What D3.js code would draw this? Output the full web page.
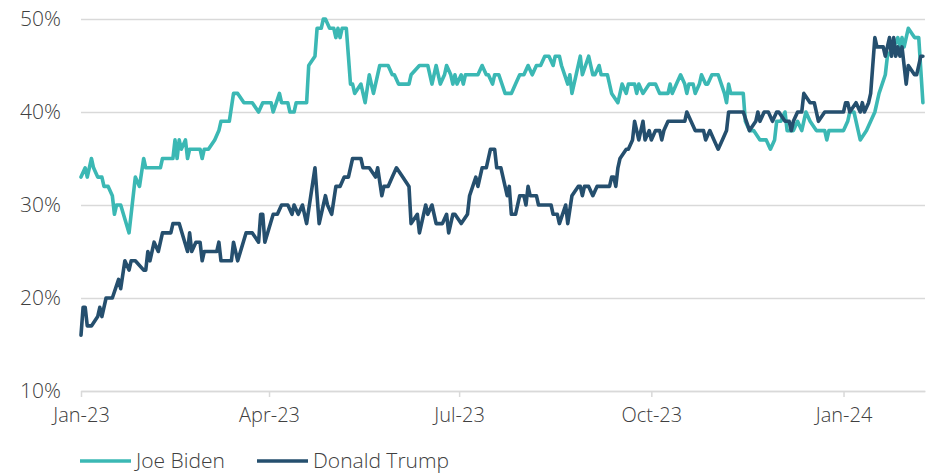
<!DOCTYPE html>
<html lang="en">
<head>
<meta charset="UTF-8">
<title>Biden vs Trump</title>
<script src="https://d3js.org/d3.v7.min.js"></script>
<style>
    body { margin: 0; background: #fff; }
    svg { display: block; font-family: "Open Sans", Lato, sans-serif; }
    .tick text { fill: #404040; }
</style>
</head>
<body>
<div id="chart"></div>
<script>
    // data, one vertex per change of direction
    const bidenDates = [
        "2023-01-01","2023-01-03","2023-01-04","2023-01-06","2023-01-07","2023-01-09","2023-01-11","2023-01-12","2023-01-14","2023-01-16",
        "2023-01-17","2023-01-18","2023-01-20","2023-01-24","2023-01-27","2023-01-29","2023-01-31","2023-02-01","2023-02-08","2023-02-09",
        "2023-02-14","2023-02-15","2023-02-16","2023-02-17","2023-02-18","2023-02-20","2023-02-21","2023-02-22","2023-02-27","2023-02-28",
        "2023-03-01","2023-03-03","2023-03-06","2023-03-08","2023-03-09","2023-03-13","2023-03-15","2023-03-17","2023-03-20","2023-03-24",
        "2023-03-27","2023-03-29","2023-04-02","2023-04-03","2023-04-06","2023-04-07","2023-04-10","2023-04-11","2023-04-13","2023-04-14",
        "2023-04-19","2023-04-20","2023-04-23","2023-04-24","2023-04-26","2023-04-27","2023-04-28","2023-04-30","2023-05-02","2023-05-03",
        "2023-05-04","2023-05-05","2023-05-06","2023-05-08","2023-05-09","2023-05-10","2023-05-11","2023-05-12","2023-05-15","2023-05-17",
        "2023-05-19","2023-05-21","2023-05-24","2023-05-28","2023-05-30","2023-05-31","2023-06-02","2023-06-07","2023-06-08","2023-06-12",
        "2023-06-16","2023-06-18","2023-06-20","2023-06-21","2023-06-22","2023-06-24","2023-06-25","2023-06-27","2023-06-28","2023-06-29",
        "2023-06-30","2023-07-02","2023-07-03","2023-07-04","2023-07-10","2023-07-12","2023-07-14","2023-07-15","2023-07-17","2023-07-18",
        "2023-07-20","2023-07-23","2023-07-26","2023-07-28","2023-07-30","2023-08-01","2023-08-03","2023-08-05","2023-08-07","2023-08-09",
        "2023-08-11","2023-08-13","2023-08-15","2023-08-16","2023-08-18","2023-08-19","2023-08-22","2023-08-23","2023-08-24","2023-08-26",
        "2023-08-28","2023-08-29","2023-09-01","2023-09-03","2023-09-04","2023-09-06","2023-09-07","2023-09-10","2023-09-12","2023-09-15",
        "2023-09-16","2023-09-17","2023-09-19","2023-09-20","2023-09-23","2023-09-24","2023-09-25","2023-09-27","2023-09-30","2023-10-03",
        "2023-10-05","2023-10-09","2023-10-10","2023-10-11","2023-10-13","2023-10-15","2023-10-17","2023-10-18","2023-10-19","2023-10-21",
        "2023-10-22","2023-10-24","2023-10-25","2023-10-27","2023-10-28","2023-10-30","2023-11-02","2023-11-05","2023-11-06","2023-11-07",
        "2023-11-08","2023-11-14","2023-11-15","2023-11-17","2023-11-19","2023-11-22","2023-11-25","2023-11-27","2023-11-29","2023-11-30",
        "2023-12-02","2023-12-04","2023-12-05","2023-12-08","2023-12-10","2023-12-12","2023-12-14","2023-12-16","2023-12-19","2023-12-23",
        "2023-12-24","2023-12-25","2024-01-01","2024-01-03","2024-01-04","2024-01-06","2024-01-08","2024-01-09","2024-01-12","2024-01-14",
        "2024-01-16","2024-01-18","2024-01-21","2024-01-22","2024-01-25","2024-01-27","2024-01-28","2024-01-29","2024-01-30","2024-02-01",
        "2024-02-04","2024-02-06","2024-02-08"
    ];
    const bidenValues = [
        33,34,33,35,34,33,33,32,32,31,
        29,30,30,27,33,32,35,34,34,35,
        35,37,35,37,36,37,35,36,36,35,
        36,36,37,38,39,39,42,42,41,41,
        40,41,41,40,42,41,41,40,40,41,
        41,45,46,49,49,50,50,49,49,48,
        49,48,49,49,46,43,43,42,43,41,
        44,42,45,45,44,44,43,43,44,45,
        45,43,45,44,43,44,45,44,43,44,
        43,44,43,44,44,45,44,44,43,44,
        44,42,42,43,44,44,45,44,45,45,
        46,46,45,46,46,45,43,44,42,44,
        46,44,46,44,44,45,44,44,42,41,
        42,43,42,43,43,42,43,42,43,43,
        42,42,43,42,43,44,43,42,43,43,
        42,43,44,43,43,44,44,42,41,43,
        42,42,39,38,38,37,37,36,37,39,
        39,40,38,38,39,38,40,39,38,38,
        37,38,38,39,40,40,38,37,38,39,
        40,42,44,46,47,48,47,48,47,49,
        48,48,41
    ];

    const trumpDates = [
        "2023-01-01","2023-01-02","2023-01-03","2023-01-04","2023-01-06","2023-01-09","2023-01-10","2023-01-11","2023-01-13","2023-01-16",
        "2023-01-19","2023-01-20","2023-01-22","2023-01-24","2023-01-25","2023-01-27","2023-01-31","2023-02-01","2023-02-02","2023-02-03",
        "2023-02-05","2023-02-07","2023-02-09","2023-02-13","2023-02-14","2023-02-17","2023-02-21","2023-02-22","2023-02-23","2023-02-25",
        "2023-02-27","2023-02-28","2023-03-01","2023-03-07","2023-03-08","2023-03-09","2023-03-14","2023-03-15","2023-03-17","2023-03-21",
        "2023-03-24","2023-03-27","2023-03-28","2023-03-29","2023-03-30","2023-04-03","2023-04-05","2023-04-07","2023-04-10","2023-04-12",
        "2023-04-13","2023-04-15","2023-04-17","2023-04-19","2023-04-23","2023-04-25","2023-04-28","2023-04-29","2023-05-01","2023-05-03",
        "2023-05-05","2023-05-07","2023-05-09","2023-05-11","2023-05-15","2023-05-16","2023-05-19","2023-05-22","2023-05-23","2023-05-25",
        "2023-05-26","2023-05-28","2023-05-30","2023-06-01","2023-06-04","2023-06-07","2023-06-08","2023-06-11","2023-06-12","2023-06-15",
        "2023-06-16","2023-06-18","2023-06-20","2023-06-23","2023-06-25","2023-06-26","2023-06-28","2023-06-29","2023-07-02","2023-07-05",
        "2023-07-06","2023-07-09","2023-07-10","2023-07-12","2023-07-14","2023-07-16","2023-07-18","2023-07-19","2023-07-21","2023-07-23",
        "2023-07-24","2023-07-25","2023-07-26","2023-07-28","2023-07-30","2023-08-01","2023-08-02","2023-08-03","2023-08-04","2023-08-07",
        "2023-08-08","2023-08-14","2023-08-15","2023-08-17","2023-08-18","2023-08-21","2023-08-22","2023-08-24","2023-08-27","2023-08-28",
        "2023-08-29","2023-08-30","2023-09-01","2023-09-03","2023-09-05","2023-09-11","2023-09-12","2023-09-13","2023-09-14","2023-09-15",
        "2023-09-16","2023-09-19","2023-09-20","2023-09-22","2023-09-23","2023-09-25","2023-09-27","2023-09-28","2023-09-30","2023-10-01",
        "2023-10-03","2023-10-05","2023-10-06","2023-10-07","2023-10-09","2023-10-17","2023-10-18","2023-10-20","2023-10-22","2023-10-26",
        "2023-10-27","2023-10-29","2023-10-31","2023-11-02","2023-11-04","2023-11-06","2023-11-07","2023-11-14","2023-11-17","2023-11-20",
        "2023-11-21","2023-11-22","2023-11-24","2023-11-26","2023-11-28","2023-11-30","2023-12-01","2023-12-04","2023-12-06","2023-12-07",
        "2023-12-08","2023-12-10","2023-12-12","2023-12-13","2023-12-16","2023-12-18","2023-12-20","2023-12-23","2024-01-01","2024-01-02",
        "2024-01-03","2024-01-04","2024-01-07","2024-01-09","2024-01-10","2024-01-11","2024-01-13","2024-01-14","2024-01-16","2024-01-17",
        "2024-01-20","2024-01-21","2024-01-23","2024-01-24","2024-01-25","2024-01-26","2024-01-27","2024-01-28","2024-01-29","2024-01-31",
        "2024-02-01","2024-02-04","2024-02-05","2024-02-07","2024-02-08"
    ];
    const trumpValues = [
        16,19,19,17,17,18,19,18,20,20,
        22,21,24,23,24,24,23,23,25,24,
        26,25,27,27,28,28,25,27,25,26,
        26,24,25,25,26,24,24,26,24,27,
        27,26,29,29,26,29,29,30,30,29,
        30,29,30,28,34,28,31,30,29,32,
        32,33,33,35,35,34,34,33,34,31,
        32,32,33,34,33,32,28,29,27,30,
        29,30,28,28,29,27,29,29,28,29,
        31,33,32,34,34,36,36,34,34,32,
        31,32,29,29,31,31,30,32,31,31,
        30,30,29,29,28,30,28,31,32,32,
        31,32,32,31,32,32,33,33,32,34,
        35,36,36,37,39,37,39,37,38,37,
        38,38,37,38,39,39,40,39,38,38,
        37,38,37,36,37,38,40,40,38,39,
        40,39,40,40,39,40,40,39,39,38,
        39,40,40,42,41,41,39,40,40,41,
        41,40,41,40,41,40,41,42,48,47,
        47,46,48,46,48,46,47,46,47,43,
        45,44,44,46,46
    ];

    const seriesNames = ["Joe Biden", "Donald Trump"];
    const seriesColors = ["#3bb8b4", "#254f6e"];
    const yTicks = [10, 20, 30, 40, 50];
    const xTicks = ["2023-01-01", "2023-04-01", "2023-07-01", "2023-10-01", "2024-01-01"];

    const width = 927;
    const height = 474;
    const margin = { top: 19, right: 2, bottom: 83, left: 81 };

    const parse = d3.timeParse("%Y-%m-%d");
    const series = [
        bidenDates.map((d, i) => ({ date: parse(d), value: bidenValues[i] })),
        trumpDates.map((d, i) => ({ date: parse(d), value: trumpValues[i] }))
    ];

    const svg = d3.select("#chart")
        .append("svg")
        .attr("width", width)
        .attr("height", height);

    const x = d3.scaleTime()
        .domain([parse("2023-01-01"), parse("2024-02-09")])
        .range([margin.left, width - margin.right]);

    const y = d3.scaleLinear()
        .domain([10, 50])
        .range([height - margin.bottom, margin.top]);

    // horizontal gridlines + y labels
    svg.append("g")
        .attr("transform", `translate(${margin.left},0)`)
        .call(d3.axisLeft(y)
            .tickValues(yTicks)
            .tickSize(-(width - margin.left - margin.right))
            .tickPadding(20)
            .tickFormat(d => d + "%"))
        .attr("font-family", null)
        .call(g => g.select(".domain").remove())
        .call(g => g.selectAll(".tick line").attr("stroke", "#d9d9d9").attr("stroke-width", 1.5))
        .call(g => g.selectAll(".tick text").attr("font-size", 21).attr("font-weight", 300));

    // x axis
    svg.append("g")
        .attr("transform", `translate(0,${y(10)})`)
        .call(d3.axisBottom(x)
            .tickValues(xTicks.map(parse))
            .tickSize(6)
            .tickSizeOuter(0)
            .tickPadding(11)
            .tickFormat(d3.timeFormat("%b-%y")))
        .attr("font-family", null)
        .call(g => g.select(".domain").attr("stroke", "#d9d9d9").attr("stroke-width", 1.5))
        .call(g => g.selectAll(".tick line").attr("stroke", "#d9d9d9").attr("stroke-width", 1.5))
        .call(g => g.selectAll(".tick text").attr("font-size", 20).attr("font-weight", 300));

    const line = d3.line()
        .x(d => x(d.date))
        .y(d => y(d.value));

    svg.append("g")
        .selectAll("path")
        .data(series)
        .join("path")
        .attr("fill", "none")
        .attr("stroke", (d, i) => seriesColors[i])
        .attr("stroke-width", 3.6)
        .attr("stroke-linejoin", "round")
        .attr("stroke-linecap", "round")
        .attr("d", line);

    // legend
    const legend = svg.append("g")
        .attr("transform", "translate(80,461)");
    const legendX = [0, 177];
    seriesNames.forEach((name, i) => {
        const g = legend.append("g").attr("transform", `translate(${legendX[i]},0)`);
        g.append("line")
            .attr("x1", 0).attr("x2", 51)
            .attr("stroke", seriesColors[i])
            .attr("stroke-width", 3.6);
        g.append("text")
            .attr("x", 56)
            .attr("dy", "0.35em")
            .attr("font-size", 21)
            .attr("font-weight", 300)
            .attr("fill", "#404040")
            .text(name);
    });
</script>
</body>
</html>
